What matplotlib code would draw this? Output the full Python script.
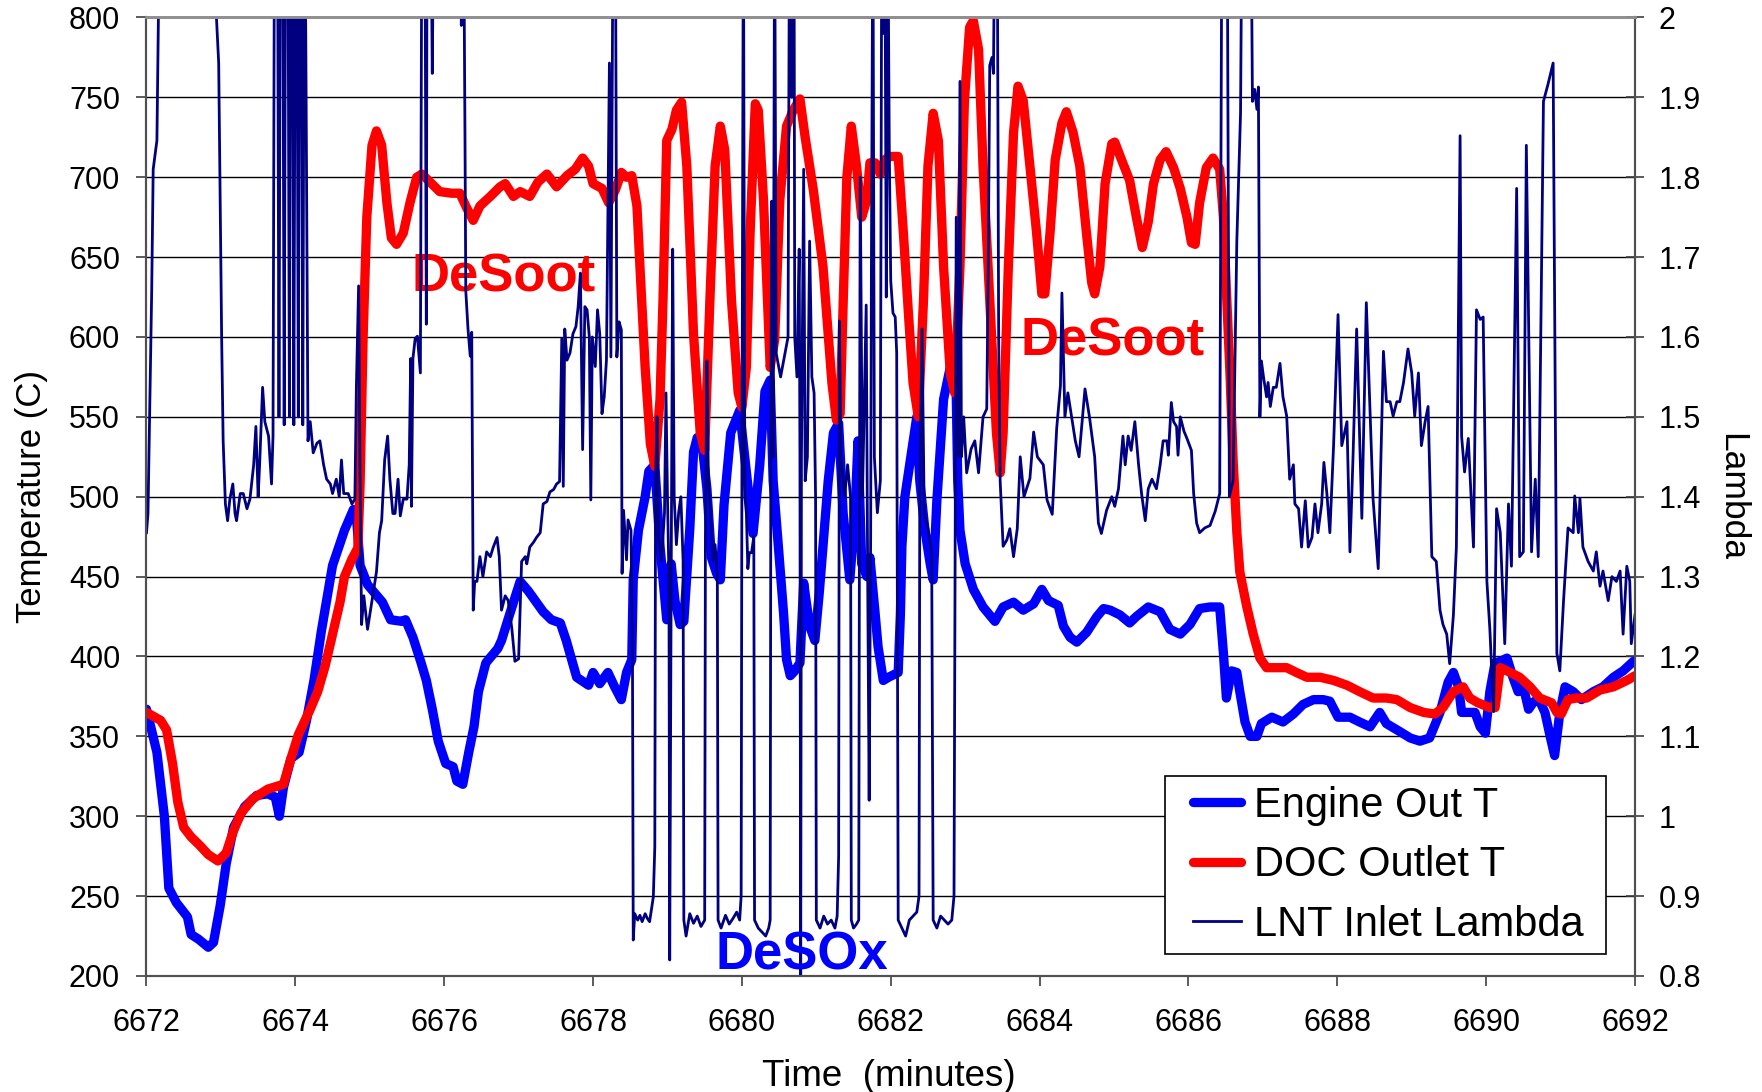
import numpy as np
import matplotlib
matplotlib.use('Agg')
import matplotlib.pyplot as plt
from matplotlib.ticker import FuncFormatter
from matplotlib.patches import Rectangle
from matplotlib.transforms import IdentityTransform

plt.rcParams['font.family'] = ['Liberation Sans', 'DejaVu Sans']

# ============================================
# Data
# ============================================
engine_t = [6672.00, 6672.14, 6672.24, 6672.30, 6672.40, 6672.55, 6672.60, 6672.70, 6672.83, 6672.90,
            6672.99, 6673.07, 6673.17, 6673.32, 6673.48, 6673.63, 6673.73, 6673.785, 6673.84, 6673.94,
            6674.05, 6674.15, 6674.25, 6674.35, 6674.50, 6674.66, 6674.78, 6674.82, 6674.87, 6674.97,
            6675.17, 6675.28, 6675.43, 6675.48, 6675.58, 6675.69, 6675.76, 6675.84, 6675.92, 6676.02,
            6676.12, 6676.17, 6676.25, 6676.33, 6676.40, 6676.46, 6676.56, 6676.72, 6676.77, 6676.87,
            6677.02, 6677.13, 6677.33, 6677.44, 6677.56, 6677.64, 6677.78, 6677.94, 6678.00, 6678.09,
            6678.20, 6678.29, 6678.38, 6678.45, 6678.52, 6678.54, 6678.61, 6678.70, 6678.75, 6678.83,
            6678.90, 6678.99, 6679.05, 6679.10, 6679.17, 6679.22, 6679.30, 6679.35, 6679.40, 6679.47,
            6679.53, 6679.59, 6679.66, 6679.71, 6679.76, 6679.85, 6679.97, 6680.05, 6680.15, 6680.24,
            6680.31, 6680.38, 6680.42, 6680.49, 6680.56, 6680.60, 6680.65, 6680.71, 6680.78, 6680.83,
            6680.91, 6680.98, 6681.04, 6681.09, 6681.16, 6681.23, 6681.30, 6681.36, 6681.45, 6681.52,
            6681.56, 6681.61, 6681.68, 6681.72, 6681.79, 6681.83, 6681.90, 6681.97, 6682.10, 6682.13,
            6682.15, 6682.19, 6682.35, 6682.39, 6682.46, 6682.53, 6682.57, 6682.62, 6682.71, 6682.84,
            6682.87, 6682.90, 6682.93, 6683.00, 6683.11, 6683.24, 6683.40, 6683.51, 6683.65, 6683.78,
            6683.92, 6684.03, 6684.12, 6684.25, 6684.32, 6684.41, 6684.50, 6684.63, 6684.77, 6684.86,
            6684.95, 6685.08, 6685.21, 6685.30, 6685.46, 6685.62, 6685.75, 6685.89, 6686.02, 6686.15,
            6686.29, 6686.42, 6686.47, 6686.51, 6686.58, 6686.65, 6686.69, 6686.76, 6686.83, 6686.92,
            6686.98, 6687.12, 6687.27, 6687.41, 6687.54, 6687.68, 6687.81, 6687.90, 6688.01, 6688.17,
            6688.30, 6688.44, 6688.57, 6688.66, 6688.84, 6688.98, 6689.11, 6689.24, 6689.38, 6689.49,
            6689.56, 6689.63, 6689.67, 6689.78, 6689.85, 6689.92, 6689.99, 6690.05, 6690.12, 6690.19,
            6690.28, 6690.36, 6690.43, 6690.50, 6690.57, 6690.63, 6690.70, 6690.79, 6690.86, 6690.92,
            6690.99, 6691.06, 6691.17, 6691.28, 6691.44, 6691.57, 6691.71, 6691.84, 6691.98]
engine_out = [367, 340, 300, 255, 246, 237, 226, 223, 218, 221,
              244, 270, 293, 306, 313, 314, 312, 300, 318, 336,
              340, 360, 385, 416, 457, 479, 492, 488, 457, 445,
              434, 423, 422, 423, 412, 396, 385, 367, 347, 333,
              331, 322, 320, 340, 356, 378, 396, 405, 410, 425,
              447, 441, 428, 423, 421, 410, 387, 382, 390, 383,
              390, 381, 373, 390, 398, 448, 479, 500, 516, 520,
              469, 423, 458, 435, 420, 422, 480, 528, 537, 531,
              505, 462, 452, 448, 495, 540, 554, 520, 477, 520,
              566, 573, 510, 469, 427, 398, 388, 391, 396, 446,
              419, 410, 440, 469, 510, 540, 546, 490, 448, 490,
              535, 458, 450, 462, 427, 406, 385, 387, 390, 427,
              469, 500, 550, 510, 479, 458, 448, 498, 561, 590,
              592, 510, 479, 458, 442, 431, 422, 431, 434, 429,
              433, 442, 435, 432, 419, 412, 409, 415, 425, 430,
              429, 426, 421, 425, 431, 428, 417, 414, 420, 430,
              431, 431, 402, 374, 391, 390, 378, 359, 350, 350,
              358, 362, 359, 364, 370, 373, 373, 372, 362, 362,
              359, 356, 365, 358, 353, 349, 347, 349, 365, 384,
              390, 381, 365, 365, 365, 356, 352, 378, 396, 397,
              399, 387, 378, 381, 367, 371, 374, 365, 350, 338,
              365, 381, 378, 373, 378, 381, 387, 391, 397]

doc_t = [6672.00, 6672.19, 6672.27, 6672.35, 6672.42, 6672.50, 6672.60, 6672.71, 6672.83, 6672.96,
         6673.07, 6673.17, 6673.27, 6673.43, 6673.63, 6673.84, 6673.94, 6674.04, 6674.20, 6674.30,
         6674.40, 6674.50, 6674.60, 6674.66, 6674.76, 6674.84, 6674.87, 6674.91, 6674.96, 6675.03,
         6675.09, 6675.16, 6675.23, 6675.29, 6675.36, 6675.45, 6675.54, 6675.63, 6675.70, 6675.81,
         6675.94, 6676.10, 6676.21, 6676.30, 6676.39, 6676.48, 6676.62, 6676.75, 6676.82, 6676.93,
         6677.02, 6677.15, 6677.26, 6677.38, 6677.51, 6677.65, 6677.76, 6677.86, 6677.94, 6678.00,
         6678.12, 6678.21, 6678.30, 6678.38, 6678.45, 6678.52, 6678.59, 6678.63, 6678.70, 6678.77,
         6678.83, 6678.90, 6678.94, 6678.99, 6679.06, 6679.12, 6679.19, 6679.26, 6679.35, 6679.44,
         6679.50, 6679.57, 6679.64, 6679.71, 6679.77, 6679.86, 6679.95, 6680.00, 6680.06, 6680.11,
         6680.18, 6680.22, 6680.29, 6680.38, 6680.44, 6680.51, 6680.60, 6680.69, 6680.78, 6680.85,
         6680.96, 6681.09, 6681.21, 6681.27, 6681.32, 6681.36, 6681.41, 6681.47, 6681.54, 6681.61,
         6681.68, 6681.72, 6681.79, 6681.86, 6681.92, 6681.99, 6682.10, 6682.17, 6682.24, 6682.30,
         6682.37, 6682.44, 6682.50, 6682.57, 6682.64, 6682.71, 6682.80, 6682.86, 6682.93, 6682.99,
         6683.06, 6683.11, 6683.18, 6683.24, 6683.33, 6683.42, 6683.47, 6683.51, 6683.58, 6683.65,
         6683.71, 6683.78, 6683.87, 6683.96, 6684.03, 6684.07, 6684.14, 6684.21, 6684.30, 6684.36,
         6684.45, 6684.54, 6684.63, 6684.70, 6684.74, 6684.81, 6684.88, 6684.97, 6685.01, 6685.10,
         6685.21, 6685.30, 6685.38, 6685.46, 6685.53, 6685.62, 6685.70, 6685.80, 6685.89, 6685.98,
         6686.04, 6686.09, 6686.15, 6686.24, 6686.33, 6686.42, 6686.47, 6686.51, 6686.56, 6686.60,
         6686.65, 6686.69, 6686.78, 6686.87, 6686.96, 6687.05, 6687.18, 6687.32, 6687.45, 6687.59,
         6687.77, 6687.95, 6688.13, 6688.30, 6688.48, 6688.66, 6688.80, 6688.98, 6689.16, 6689.31,
         6689.42, 6689.56, 6689.69, 6689.78, 6689.89, 6690.05, 6690.12, 6690.19, 6690.28, 6690.45,
         6690.59, 6690.72, 6690.88, 6690.95, 6691.01, 6691.10, 6691.21, 6691.35, 6691.53, 6691.71,
         6691.89, 6692.00]
doc_out = [365, 360, 354, 333, 309, 293, 287, 282, 276, 272,
           277, 291, 302, 311, 317, 320, 336, 351, 367, 378,
           394, 414, 434, 450, 461, 468, 508, 599, 675, 720,
           729, 720, 684, 662, 658, 665, 684, 700, 702, 697,
           691, 690, 690, 681, 673, 682, 688, 694, 696, 688,
           691, 688, 697, 702, 694, 701, 705, 712, 707, 696,
           693, 684, 692, 703, 700, 701, 682, 644, 581, 533,
           519, 561, 623, 723, 730, 742, 747, 707, 602, 540,
           529, 623, 707, 732, 717, 623, 565, 556, 581, 665,
           746, 742, 686, 581, 598, 686, 732, 742, 749, 725,
           692, 644, 571, 548, 552, 620, 700, 732, 707, 675,
           686, 709, 709, 702, 711, 713, 713, 665, 613, 571,
           550, 623, 707, 740, 723, 644, 577, 565, 644, 748,
           794, 798, 780, 707, 623, 540, 515, 540, 644, 728,
           757, 748, 707, 665, 627, 627, 665, 711, 734, 741,
           728, 707, 665, 634, 627, 644, 696, 721, 722, 711,
           698, 675, 656, 672, 696, 711, 716, 706, 693, 675,
           659, 658, 684, 706, 712, 705, 675, 629, 575, 523,
           478, 453, 432, 414, 399, 393, 393, 393, 390, 387,
           387, 385, 382, 378, 374, 374, 373, 368, 365, 364,
           368, 378, 381, 374, 371, 368, 368, 393, 391, 387,
           381, 374, 371, 365, 364, 373, 374, 374, 379, 381,
           385, 388]

# values above 2 run off the top of the lambda axis
lambda_t = [6672.00, 6672.02, 6672.07, 6672.09, 6672.14, 6672.16, 6672.20, 6672.90, 6672.94, 6672.97,
            6673.01, 6673.03, 6673.06, 6673.09, 6673.12, 6673.16, 6673.19, 6673.21, 6673.26, 6673.30,
            6673.35, 6673.39, 6673.44, 6673.47, 6673.50, 6673.52, 6673.56, 6673.59, 6673.64, 6673.68,
            6673.70, 6673.72, 6673.76, 6673.78, 6673.80, 6673.83, 6673.85, 6673.87, 6673.90, 6673.92,
            6673.94, 6673.96, 6673.98, 6674.00, 6674.02, 6674.04, 6674.06, 6674.08, 6674.10, 6674.12,
            6674.14, 6674.17, 6674.20, 6674.24, 6674.29, 6674.33, 6674.38, 6674.42, 6674.47, 6674.50,
            6674.55, 6674.59, 6674.62, 6674.65, 6674.71, 6674.76, 6674.80, 6674.82, 6674.85, 6674.87,
            6674.89, 6674.92, 6674.97, 6675.03, 6675.09, 6675.13, 6675.16, 6675.20, 6675.24, 6675.27,
            6675.31, 6675.34, 6675.38, 6675.41, 6675.45, 6675.50, 6675.53, 6675.55, 6675.56, 6675.58,
            6675.61, 6675.64, 6675.68, 6675.70, 6675.74, 6675.76, 6675.77, 6675.82, 6675.84, 6675.86,
            6676.21, 6676.23, 6676.26, 6676.28, 6676.29, 6676.32, 6676.35, 6676.37, 6676.39, 6676.41,
            6676.44, 6676.48, 6676.52, 6676.57, 6676.62, 6676.66, 6676.71, 6676.74, 6676.77, 6676.82,
            6676.86, 6676.91, 6676.95, 6677.00, 6677.04, 6677.09, 6677.11, 6677.15, 6677.20, 6677.24,
            6677.29, 6677.33, 6677.38, 6677.42, 6677.47, 6677.51, 6677.55, 6677.58, 6677.60, 6677.62,
            6677.65, 6677.69, 6677.73, 6677.77, 6677.80, 6677.83, 6677.86, 6677.89, 6677.92, 6677.95,
            6677.97, 6677.99, 6678.03, 6678.06, 6678.09, 6678.12, 6678.15, 6678.18, 6678.22, 6678.24,
            6678.27, 6678.30, 6678.32, 6678.35, 6678.38, 6678.39, 6678.41, 6678.45, 6678.47, 6678.51,
            6678.53, 6678.54, 6678.56, 6678.60, 6678.63, 6678.66, 6678.70, 6678.73, 6678.76, 6678.81,
            6678.83, 6678.84, 6678.86, 6678.88, 6678.92, 6678.96, 6678.98, 6679.00, 6679.02, 6679.03,
            6679.05, 6679.07, 6679.09, 6679.12, 6679.15, 6679.18, 6679.21, 6679.22, 6679.25, 6679.30,
            6679.35, 6679.40, 6679.45, 6679.50, 6679.51, 6679.53, 6679.55, 6679.58, 6679.61, 6679.64,
            6679.67, 6679.68, 6679.72, 6679.78, 6679.83, 6679.88, 6679.93, 6679.97, 6679.99, 6680.00,
            6680.02, 6680.04, 6680.06, 6680.08, 6680.10, 6680.13, 6680.16, 6680.17, 6680.22, 6680.27,
            6680.32, 6680.36, 6680.38, 6680.39, 6680.40, 6680.42, 6680.44, 6680.46, 6680.52, 6680.58,
            6680.62, 6680.64, 6680.67, 6680.70, 6680.71, 6680.74, 6680.77, 6680.78, 6680.79, 6680.80,
            6680.83, 6680.85, 6680.88, 6680.91, 6680.94, 6680.97, 6680.99, 6681.00, 6681.05, 6681.10,
            6681.15, 6681.20, 6681.25, 6681.28, 6681.30, 6681.31, 6681.33, 6681.38, 6681.42, 6681.46,
            6681.47, 6681.50, 6681.54, 6681.57, 6681.58, 6681.59, 6681.62, 6681.67, 6681.69, 6681.71,
            6681.73, 6681.74, 6681.76, 6681.78, 6681.82, 6681.86, 6681.88, 6681.90, 6681.92, 6681.94,
            6681.96, 6681.98, 6682.00, 6682.03, 6682.06, 6682.08, 6682.10, 6682.15, 6682.20, 6682.25,
            6682.30, 6682.35, 6682.38, 6682.39, 6682.42, 6682.45, 6682.50, 6682.55, 6682.57, 6682.62,
            6682.67, 6682.72, 6682.77, 6682.82, 6682.85, 6682.87, 6682.88, 6682.91, 6682.93, 6682.95,
            6682.98, 6683.02, 6683.08, 6683.13, 6683.18, 6683.24, 6683.29, 6683.31, 6683.33, 6683.36,
            6683.38, 6683.40, 6683.43, 6683.45, 6683.47, 6683.51, 6683.56, 6683.60, 6683.65, 6683.70,
            6683.74, 6683.79, 6683.87, 6683.92, 6683.97, 6684.05, 6684.10, 6684.17, 6684.23, 6684.28,
            6684.30, 6684.34, 6684.38, 6684.43, 6684.48, 6684.53, 6684.61, 6684.67, 6684.74, 6684.79,
            6684.83, 6684.90, 6684.97, 6685.01, 6685.06, 6685.12, 6685.15, 6685.19, 6685.23, 6685.28,
            6685.33, 6685.37, 6685.42, 6685.46, 6685.51, 6685.57, 6685.62, 6685.66, 6685.71, 6685.73,
            6685.77, 6685.80, 6685.84, 6685.86, 6685.89, 6685.94, 6685.98, 6686.04, 6686.07, 6686.11,
            6686.15, 6686.22, 6686.29, 6686.36, 6686.42, 6686.45, 6686.52, 6686.55, 6686.60, 6686.65,
            6686.70, 6686.72, 6686.84, 6686.86, 6686.89, 6686.92, 6686.94, 6686.96, 6686.98, 6687.01,
            6687.05, 6687.07, 6687.10, 6687.14, 6687.18, 6687.23, 6687.27, 6687.32, 6687.36, 6687.41,
            6687.43, 6687.48, 6687.52, 6687.57, 6687.61, 6687.66, 6687.70, 6687.74, 6687.79, 6687.82,
            6687.86, 6687.90, 6687.95, 6688.01, 6688.06, 6688.13, 6688.17, 6688.21, 6688.26, 6688.33,
            6688.39, 6688.48, 6688.55, 6688.57, 6688.62, 6688.66, 6688.71, 6688.75, 6688.80, 6688.84,
            6688.89, 6688.95, 6689.00, 6689.04, 6689.09, 6689.13, 6689.18, 6689.22, 6689.27, 6689.33,
            6689.38, 6689.42, 6689.47, 6689.51, 6689.56, 6689.60, 6689.65, 6689.67, 6689.71, 6689.76,
            6689.83, 6689.87, 6689.92, 6689.96, 6690.01, 6690.05, 6690.10, 6690.14, 6690.19, 6690.25,
            6690.30, 6690.34, 6690.41, 6690.45, 6690.50, 6690.54, 6690.61, 6690.66, 6690.70, 6690.77,
            6690.83, 6690.90, 6690.95, 6690.99, 6691.04, 6691.10, 6691.17, 6691.19, 6691.24, 6691.26,
            6691.30, 6691.37, 6691.44, 6691.48, 6691.53, 6691.57, 6691.64, 6691.69, 6691.75, 6691.80,
            6691.84, 6691.89, 6691.93, 6691.95, 6692.00]
lambda_in = [1.355, 1.379, 1.658, 1.81, 1.846, 2.0, 2.15, 2.15, 2.0, 1.943,
             1.598, 1.47, 1.391, 1.37, 1.397, 1.416, 1.379, 1.37, 1.404, 1.404,
             1.385, 1.397, 1.44, 1.488, 1.40, 1.44, 1.537, 1.494, 1.476, 1.416,
             1.476, 2.15, 2.15, 1.50, 2.15, 2.15, 1.49, 2.15, 2.15, 1.50,
             2.15, 2.15, 1.49, 2.15, 2.15, 1.50, 2.15, 2.15, 1.49, 2.15,
             1.98, 1.47, 1.494, 1.455, 1.467, 1.47, 1.44, 1.422, 1.416, 1.404,
             1.422, 1.40, 1.446, 1.404, 1.404, 1.391, 1.397, 1.537, 1.664, 1.416,
             1.24, 1.276, 1.234, 1.27, 1.306, 1.355, 1.37, 1.446, 1.476, 1.422,
             1.379, 1.379, 1.422, 1.376, 1.397, 1.397, 1.44, 1.573, 1.388, 1.573,
             1.598, 1.601, 1.555, 2.15, 2.15, 1.616, 2.15, 2.15, 1.93, 2.15,
             2.15, 1.99, 2.15, 1.84, 1.658, 1.61, 1.576, 1.606, 1.258, 1.294,
             1.294, 1.325, 1.30, 1.331, 1.325, 1.337, 1.349, 1.325, 1.258, 1.276,
             1.27, 1.234, 1.194, 1.197, 1.319, 1.325, 1.316, 1.337, 1.343, 1.349,
             1.355, 1.391, 1.394, 1.406, 1.409, 1.416, 1.419, 1.598, 1.413, 1.61,
             1.571, 1.58, 1.604, 1.613, 1.638, 1.68, 1.459, 1.638, 1.634, 1.60,
             1.396, 1.60, 1.563, 1.634, 1.604, 1.504, 1.525, 1.571, 1.943, 1.575,
             2.15, 2.15, 1.575, 1.619, 1.609, 1.304, 1.383, 1.321, 1.371, 1.358,
             1.191, 0.845, 0.878, 0.87, 0.876, 0.868, 0.878, 0.872, 0.868, 0.899,
             0.962, 1.42, 1.50, 1.35, 1.32, 1.38, 1.53, 1.40, 1.30, 0.82,
             1.30, 1.71, 1.40, 1.34, 1.38, 1.40, 1.32, 0.87, 0.85, 0.878,
             0.866, 0.875, 0.862, 0.87, 1.35, 1.57, 1.42, 1.38, 1.32, 1.34,
             1.30, 0.87, 0.86, 0.876, 0.865, 0.872, 0.88, 0.87, 0.90, 1.42,
             2.15, 1.40, 1.38, 1.31, 1.33, 1.33, 1.35, 0.87, 0.86, 0.855,
             0.85, 0.86, 0.87, 1.50, 1.77, 1.45, 2.15, 1.58, 1.55, 1.58,
             1.60, 2.15, 1.90, 2.15, 1.60, 1.55, 1.71, 1.45, 0.79, 1.45,
             1.81, 1.42, 1.45, 1.72, 1.55, 1.53, 1.40, 0.87, 0.86, 0.875,
             0.865, 0.87, 0.86, 0.875, 0.95, 1.62, 1.45, 1.40, 1.44, 1.40,
             0.87, 0.86, 0.865, 0.87, 1.40, 1.80, 1.40, 1.64, 1.30, 1.02,
             1.35, 1.68, 2.15, 1.45, 1.38, 1.42, 2.15, 1.98, 2.15, 1.65,
             2.15, 1.84, 1.67, 1.63, 1.625, 1.58, 0.87, 0.86, 0.85, 0.87,
             0.875, 0.88, 0.90, 1.40, 1.61, 1.38, 1.36, 1.33, 0.87, 0.86,
             0.875, 0.87, 0.865, 0.87, 0.90, 1.45, 1.75, 1.45, 1.92, 1.45,
             1.50, 1.43, 1.46, 1.47, 1.43, 1.50, 1.51, 1.69, 1.94, 1.95,
             1.93, 2.15, 2.15, 1.60, 1.42, 1.338, 1.346, 1.36, 1.325, 1.36,
             1.45, 1.40, 1.423, 1.481, 1.45, 1.44, 1.396, 1.378, 1.486, 1.539,
             1.655, 1.50, 1.53, 1.50, 1.47, 1.45, 1.535, 1.50, 1.45, 1.367,
             1.354, 1.383, 1.40, 1.388, 1.41, 1.476, 1.44, 1.476, 1.458, 1.494,
             1.44, 1.404, 1.37, 1.41, 1.422, 1.41, 1.44, 1.47, 1.47, 1.452,
             1.518, 1.494, 1.488, 1.452, 1.50, 1.482, 1.473, 1.458, 1.404, 1.367,
             1.355, 1.361, 1.364, 1.382, 1.404, 2.15, 2.15, 1.40, 1.42, 1.72,
             1.88, 2.15, 2.15, 1.895, 1.91, 1.885, 1.913, 1.50, 1.57, 1.549,
             1.525, 1.543, 1.513, 1.537, 1.537, 1.567, 1.525, 1.501, 1.422, 1.44,
             1.391, 1.385, 1.337, 1.395, 1.337, 1.349, 1.391, 1.355, 1.391, 1.443,
             1.404, 1.355, 1.464, 1.628, 1.464, 1.494, 1.331, 1.446, 1.61, 1.373,
             1.643, 1.398, 1.31, 1.385, 1.582, 1.519, 1.519, 1.501, 1.519, 1.519,
             1.543, 1.585, 1.555, 1.501, 1.555, 1.464, 1.494, 1.513, 1.325, 1.319,
             1.258, 1.24, 1.228, 1.191, 1.252, 1.337, 1.852, 1.476, 1.431, 1.473,
             1.337, 1.634, 1.622, 1.625, 1.294, 1.234, 1.131, 1.385, 1.355, 1.216,
             1.391, 1.313, 1.786, 1.325, 1.331, 1.84, 1.331, 1.422, 1.325, 1.895,
             1.916, 1.943, 1.204, 1.182, 1.27, 1.361, 1.355, 1.401, 1.355, 1.398,
             1.337, 1.319, 1.307, 1.331, 1.288, 1.307, 1.27, 1.30, 1.294, 1.307,
             1.228, 1.313, 1.294, 1.216, 1.252]

x_ticks = np.arange(6672, 6693, 2)
temp_ticks = np.arange(200, 801, 50)
lambda_ticks = np.round(np.arange(0.8, 2.01, 0.1), 1)

# ============================================
# Plot
# ============================================
fig = plt.figure(figsize=(17.62, 10.92), dpi=100)
ax = fig.add_axes([0.08314, 0.10623, 0.84478, 0.87775])
ax2 = ax.twinx()

l_eng, = ax.plot(engine_t, engine_out, color='#0000FF', lw=6.7, solid_joinstyle='round',
                 solid_capstyle='round', label='Engine Out T', zorder=3)
l_doc, = ax.plot(doc_t, doc_out, color='#FF0000', lw=6.7, solid_joinstyle='round',
                 solid_capstyle='round', label='DOC Outlet T', zorder=4)
l_lam, = ax2.plot(lambda_t, lambda_in, color='#000080', lw=2.0, label='LNT Inlet Lambda')

ax.set_xlim(6672, 6692)
ax.set_ylim(200, 800)
ax2.set_ylim(0.8, 2.0)
ax.set_xticks(x_ticks)
ax.set_yticks(temp_ticks)
ax2.set_yticks(lambda_ticks)
ax2.yaxis.set_major_formatter(FuncFormatter(lambda v, p: f'{v:g}'))

ax.yaxis.grid(True, color='black', lw=1.0)
ax.set_axisbelow(True)

ax.tick_params(axis='y', direction='out', length=7, width=1.2, pad=12, labelsize=22, color='#404040')
ax.tick_params(axis='x', direction='out', length=7, width=1.2, pad=16, labelsize=22, color='#404040')
ax2.tick_params(axis='y', direction='inout', length=13.5, width=1.2, pad=10, labelsize=22, color='#404040')

for a in (ax, ax2):
    a.spines['top'].set_color('#909090')
    a.spines['top'].set_linewidth(2)
    for s in ('left', 'right', 'bottom'):
        a.spines[s].set_color('#505050')
        a.spines[s].set_linewidth(1.5)

ax.set_xlabel('Time  (minutes)', fontsize=26.5)
ax.xaxis.set_label_coords(0.499, -0.0871)
ax.set_ylabel('Temperature (C)', fontsize=25)
ax.yaxis.set_label_coords(-0.0664, 0.5)
ax2.set_ylabel('Lambda', fontsize=25.5, rotation=270, va='bottom')
ax2.yaxis.set_label_coords(1.0537, 0.5)

ax.text(6676.8, 637, 'DeSoot', color='#FF0000', fontsize=38, fontweight='bold',
        ha='center', va='center', zorder=6)
ax.text(6684.98, 597, 'DeSoot', color='#FF0000', fontsize=38, fontweight='bold',
        ha='center', va='center', zorder=6)
ax2.text(6680.8, 0.826, 'DeSOx', color='#0000FF', fontsize=38, fontweight='bold',
         ha='center', va='center', zorder=6)

# legend drawn without its own frame; a wider box is put behind it
leg = ax2.legend(handles=[l_eng, l_doc, l_lam], loc='lower right',
                 bbox_to_anchor=(0.9718, 0.023), fontsize=30, frameon=False,
                 handlelength=1.16, handletextpad=0.32,
                 labelspacing=0.47, borderpad=0.22, borderaxespad=0)
fig.canvas.draw()
bb = leg.get_window_extent()
box = Rectangle((bb.x0 - 18, bb.y0), bb.width + 31, bb.height, transform=IdentityTransform(),
                facecolor='white', edgecolor='black', lw=1.2, zorder=4.5, clip_on=False)
ax2.add_artist(box)

fig.savefig('out.png', dpi=100)
plt.close(fig)
